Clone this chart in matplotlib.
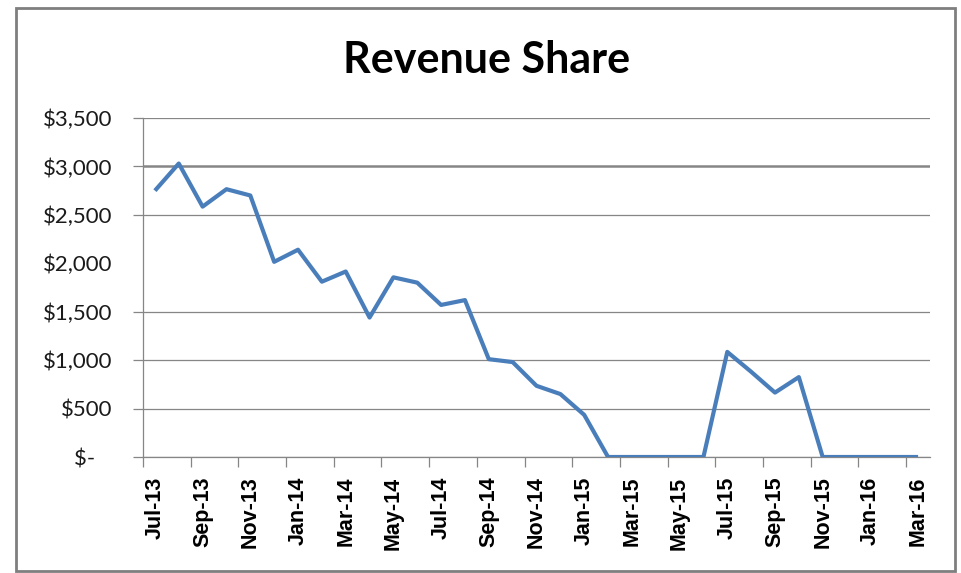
import matplotlib.pyplot as plt
from matplotlib.ticker import FuncFormatter
import numpy as np

months = ['Jul-13', 'Aug-13', 'Sep-13', 'Oct-13', 'Nov-13', 'Dec-13',
          'Jan-14', 'Feb-14', 'Mar-14', 'Apr-14', 'May-14', 'Jun-14',
          'Jul-14', 'Aug-14', 'Sep-14', 'Oct-14', 'Nov-14', 'Dec-14',
          'Jan-15', 'Feb-15', 'Mar-15', 'Apr-15', 'May-15', 'Jun-15',
          'Jul-15', 'Aug-15', 'Sep-15', 'Oct-15', 'Nov-15', 'Dec-15',
          'Jan-16', 'Feb-16', 'Mar-16']
revenue = [2750, 3030, 2585, 2765, 2700, 2015,
           2140, 1810, 1915, 1440, 1855, 1800,
           1570, 1620, 1010, 980, 735, 650,
           435, 0, 0, 0, 0, 0,
           1085, 880, 665, 825, 0, 0,
           0, 0, 0]
yticks = [0, 500, 1000, 1500, 2000, 2500, 3000, 3500]

W, H = 961, 573
fig = plt.figure(figsize=(W / 100, H / 100), dpi=100)
ax = fig.add_axes([143 / W, 1 - 457 / H, (930 - 143) / W, (457 - 118) / H])

x = np.arange(len(months))
ax.plot(x, revenue, color='#4a7ebb', lw=3.0, solid_joinstyle='round',
        solid_capstyle='butt', zorder=3)

ax.set_xlim(-0.5, len(months) - 0.5)
ax.set_ylim(0, 3500)

# y axis, accounting style labels
def money(v, pos):
    if v == 0:
        return '$-   '
    return '${:,.0f}'.format(v)

ax.set_yticks(yticks)
ax.yaxis.set_major_formatter(FuncFormatter(money))
ax.yaxis.grid(True, color='#868686', lw=0.9)
ax.set_axisbelow(True)
for lab in ax.get_yticklabels():
    lab.set_fontfamily('Lato')
    lab.set_fontsize(16)
    lab.set_color('#1a1a1a')
ax.tick_params(axis='y', length=7.2, width=0.9, color='#868686', pad=15)

# the scanned chart lost the $2,000 row and doubled the $3,000 one
ax.get_ygridlines()[4].set_visible(False)
ax.yaxis.get_major_ticks()[4].tick1line.set_visible(False)
ax.get_ygridlines()[6].set_linewidth(1.8)

# x axis: tick marks between categories, labels on every 2nd month
ax.set_xticks(np.arange(-0.5, len(months) - 1, 2))
ax.set_xticklabels([])
ax.tick_params(axis='x', which='major', length=7.2, width=0.9, color='#868686')
ax.set_xticks(x[::2], minor=True)
ax.set_xticklabels(months[::2], minor=True, rotation=90,
                   fontfamily='Liberation Sans', fontweight='bold', fontsize=15.5)
ax.tick_params(axis='x', which='minor', length=0, pad=14)

for s in ['top', 'right']:
    ax.spines[s].set_visible(False)
for s in ['left', 'bottom']:
    ax.spines[s].set_color('#868686')
    ax.spines[s].set_linewidth(0.9)

fig.text(487 / W, 1 - 73 / H, 'Revenue Share', ha='center', va='baseline',
         fontfamily='Lato', fontweight='bold', fontsize=31)

fig.patches.append(plt.Rectangle((16 / W, 1 - 571 / H), (955 - 16) / W, (571 - 8) / H,
                                 transform=fig.transFigure, fill=False,
                                 ec='#7f7f7f', lw=2))

fig.savefig('out.png', dpi=100)
